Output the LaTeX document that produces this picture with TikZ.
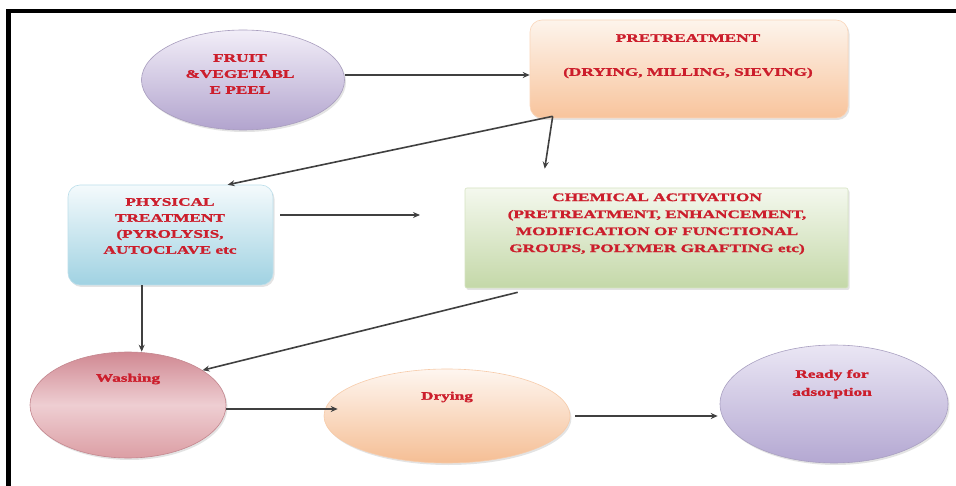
\documentclass[tikz,border=0pt]{standalone}
\usepackage{fontspec}
\setmainfont{Liberation Serif}[FakeStretch=1.5,FakeBold=1.6]
\usetikzlibrary{arrows.meta,shapes.geometric,shadows}
\definecolor{txtred}{RGB}{204,30,44}
\definecolor{arrgray}{RGB}{64,64,64}
\definecolor{fruitT}{RGB}{242,238,248}
\definecolor{fruitB}{RGB}{178,164,206}
\definecolor{preT}{RGB}{253,244,236}
\definecolor{preB}{RGB}{248,196,156}
\definecolor{physT}{RGB}{244,250,252}
\definecolor{physB}{RGB}{160,210,226}
\definecolor{chemT}{RGB}{244,248,238}
\definecolor{chemB}{RGB}{196,216,168}
\definecolor{washT}{RGB}{208,136,146}
\definecolor{washM}{RGB}{238,206,210}
\definecolor{washB}{RGB}{220,158,164}
\definecolor{dryT}{RGB}{254,246,240}
\definecolor{dryB}{RGB}{245,190,148}
\definecolor{readyT}{RGB}{234,230,244}
\definecolor{readyB}{RGB}{180,168,210}
\begin{document}
\begin{tikzpicture}[x=1pt,y=-1pt,
  arr/.style={draw=arrgray, line width=1.6pt, -{Stealth[length=7pt,width=6pt]}},
  lbl/.style={text=txtred, font=\bfseries\fontsize{11.5}{16}\selectfont, align=center, inner sep=0pt},
  shp/.style={inner sep=0pt, line width=0.6pt, drop shadow={opacity=0.22, shadow xshift=1.5pt, shadow yshift=-2pt}},
  ellshp/.style={shp, ellipse},
  boxshp/.style={shp, rectangle}
  ]
\useasboundingbox (0,0) rectangle (956,486);
\fill[white] (0,0) rectangle (956,486);
% frame
\draw[line width=4.6pt, line join=miter] (956,11) -- (8.5,11) -- (8.5,486);

% shapes
\node[ellshp, minimum width=203pt, minimum height=100pt, top color=fruitT, bottom color=fruitB, draw=fruitB!80!gray] (fruit) at (243,80) {};
\node[boxshp, rounded corners=12pt, minimum width=318pt, minimum height=98pt, top color=preT, bottom color=preB, draw=preB!70!white] (pre) at (689,69) {};
\node[boxshp, rounded corners=12pt, minimum width=205pt, minimum height=100pt, top color=physT, bottom color=physB, draw=physB!70!white] (phys) at (170.5,235) {};
\node[boxshp, rounded corners=2pt, minimum width=383pt, minimum height=100pt, top color=chemT, bottom color=chemB, draw=chemB!70!white] (chem) at (656.5,238) {};
\node[ellshp, minimum width=196pt, minimum height=106pt, top color=washT, bottom color=washB, middle color=washM, draw=washT!85!gray] (wash) at (128,405) {};
\node[ellshp, minimum width=246pt, minimum height=94pt, top color=dryT, bottom color=dryB, draw=dryB!80!white] (dry) at (447,416) {};
\node[ellshp, minimum width=228pt, minimum height=118pt, top color=readyT, bottom color=readyB, draw=readyB!80!gray] (ready) at (834,404) {};

% texts
\node[lbl] (fruittxt) at (240,74) {FRUIT\\\&VEGETABL\\E PEEL};
\node[lbl] (pretitle) at (688,38) {PRETREATMENT};
\node[lbl] (presub) at (688,73) {(DRYING, MILLING, SIEVING)};
\node[lbl] (phystxt) at (170,226) {PHYSICAL\\TREATMENT\\(PYROLYSIS,\\AUTOCLAVE etc};
\node[lbl, font=\bfseries\fontsize{11.5}{17}\selectfont] (chemtxt) at (657,224) {CHEMICAL ACTIVATION\\(PRETREATMENT, ENHANCEMENT,\\MODIFICATION OF FUNCTIONAL\\GROUPS, POLYMER GRAFTING etc)};
\node[lbl] (washtxt) at (128,379) {Washing};
\node[lbl] (drytxt) at (447,397) {Drying};
\node[lbl, font=\bfseries\fontsize{11.5}{18}\selectfont] (readytxt) at (832,384) {Ready for\\adsorption};

% coordinates
\coordinate (fruitout) at ([yshift=5pt]fruit.east);
\coordinate (preout) at ([xshift=23pt,yshift=2pt]pre.south west);
\coordinate (physin) at ([xshift=160pt]phys.north west);
\coordinate (chemin) at ([xshift=80pt,yshift=19pt]chem.north west);
\coordinate (physout) at ([xshift=7pt,yshift=20pt]phys.east);
\coordinate (physend) at (420,215);
\coordinate (physbot) at ([xshift=74pt]phys.south west);
\coordinate (chemout) at ([xshift=53pt,yshift=-4pt]chem.south west);
\coordinate (washout) at ([yshift=-4pt]wash.east);
\path (dry.west |- washout) ++(14,0) coordinate (dryin);
\coordinate (dryout) at ([xshift=5pt]dry.east);
\path (ready.west |- dryout) ++(-2,0) coordinate (readyin);

% connectors
\draw[arr] (fruitout) -- (fruitout -| pre.west);
\draw[arr] (preout) -- (physin);
\draw[arr] (preout) -- (chemin);
\draw[arr] (physout) -- (physend);
\draw[arr] (physbot) -- (physbot |- wash.north);
\draw[arr] (chemout) -- (wash.25);
\draw[arr] (washout) -- (dryin);
\draw[arr] (dryout) -- (readyin);
\end{tikzpicture}
\end{document}
